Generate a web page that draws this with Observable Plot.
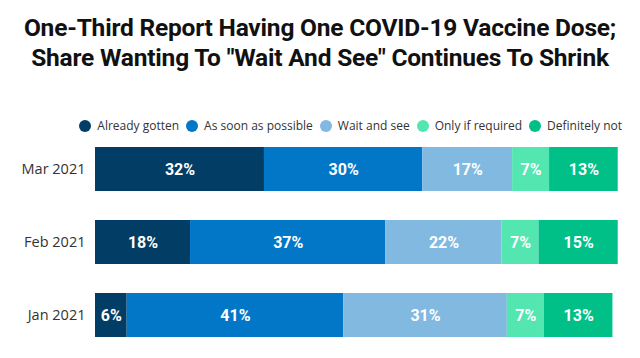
<!DOCTYPE html>
<html>
<head>
<meta charset="utf-8">
<script src="https://cdn.jsdelivr.net/npm/d3@7"></script>
<script src="https://cdn.jsdelivr.net/npm/@observablehq/plot@0.6"></script>
<style>
  html, body { margin: 0; padding: 0; background: #fff; }
  body { width: 640px; height: 358px; overflow: hidden; position: relative; font-family: "Open Sans", sans-serif; }
  #title { position: absolute; top: 13px; left: 0; width: 640px; text-align: center; font-family: Roboto, sans-serif; font-weight: 700; font-size: 24.5px; line-height: 30px; color: #111; letter-spacing: -0.2px; }
  #legend { position: absolute; top: 117px; right: 18px; display: flex; align-items: center; font-size: 12px; color: #333; white-space: nowrap; }
  #legend .item { display: flex; align-items: center; margin-left: 7px; }
  #legend .sw { width: 12px; height: 12px; border-radius: 50%; margin-right: 6px; }
  #chart { position: absolute; top: 140px; left: 0; }
</style>
</head>
<body>
<div id="title">One-Third Report Having One COVID-19 Vaccine Dose;<br>Share Wanting To "Wait And See" Continues To Shrink</div>
<div id="legend"></div>
<div id="chart"></div>
<script>
const months = ["Mar 2021", "Feb 2021", "Jan 2021"];
const categories = ["Already gotten", "As soon as possible", "Wait and see", "Only if required", "Definitely not"];
const colors = ["#023d65", "#0277c8", "#81b9e1", "#53e6b1", "#00bf87"];
const mar = [32, 30, 17, 7, 13];
const feb = [18, 37, 22, 7, 15];
const jan = [6, 41, 31, 7, 13];

const series = [mar, feb, jan];
const data = [];
months.forEach((m, i) => categories.forEach((c, j) => data.push({month: m, category: c, value: series[i][j]})));

const legend = document.getElementById("legend");
categories.forEach((c, j) => {
  const it = document.createElement("div");
  it.className = "item";
  it.innerHTML = `<span class="sw" style="background:${colors[j]}"></span><span>${c}</span>`;
  legend.appendChild(it);
});

const chart = Plot.plot({
  width: 640,
  height: 208,
  marginLeft: 95,
  marginRight: 17,
  marginTop: 6,
  marginBottom: 10,
  x: {domain: [0, 100], axis: null},
  y: {domain: months, padding: 0.4, paddingOuter: 0, label: null, axis: null},
  color: {domain: categories, range: colors},
  style: {fontFamily: "Open Sans, sans-serif", color: "#333"},
  marks: [
    Plot.barX(data, Plot.stackX({x: "value", y: "month", z: "category", fill: "category", order: categories})),
    Plot.textX(data, Plot.stackX({x: "value", y: "month", z: "category", order: categories, text: d => d.value + "%", fill: "white", fontWeight: "bold", fontSize: 16, fontFamily: "Roboto, sans-serif"})),
    Plot.axisY({tickSize: 0, tickPadding: 10, fontSize: 14.5, label: null, fill: "#333"})
  ]
});
document.getElementById("chart").appendChild(chart);
</script>
</body>
</html>
